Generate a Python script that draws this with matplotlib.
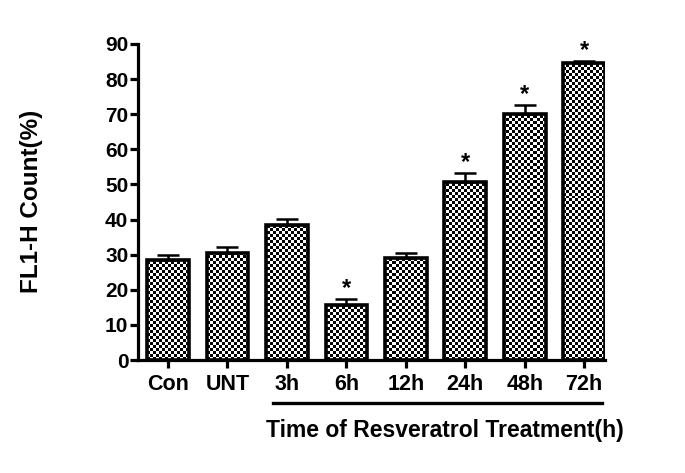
import matplotlib
matplotlib.use("Agg")
import matplotlib.pyplot as plt
import matplotlib.transforms as mtransforms
import numpy as np

plt.rcParams['font.family'] = ['Liberation Sans', 'DejaVu Sans']
plt.rcParams['font.weight'] = 'bold'

# données
groupes = ['Con', 'UNT', '3h', '6h', '12h', '24h', '48h', '72h']
valeurs = [28.6, 30.6, 38.5, 15.8, 29.0, 50.7, 70.1, 84.6]
erreurs = [1.4, 1.6, 1.7, 1.5, 1.5, 2.5, 2.5, 0.5]
signif = [False, False, False, True, False, True, True, True]

fig = plt.figure(figsize=(6.85, 4.73), dpi=100)
ax = fig.add_axes([0.2015, 0.2389, 0.6817, 0.6681])

x = np.arange(len(groupes))
barres = ax.bar(x, valeurs, width=0.7, facecolor='none', edgecolor='black',
                linewidth=2.6, zorder=3)

# motif en damier, découpé dans chaque barre
nx, ny = 156, 106
damier = (np.add.outer(np.arange(ny), np.arange(nx)) % 2).astype(float)
for b in barres:
    im = ax.imshow(damier, cmap='gray', vmin=0, vmax=1, interpolation='nearest',
                   extent=(-0.505, 7.35, 0, 90), aspect='auto', zorder=2)
    im.set_clip_path(b)

ax.errorbar(x, valeurs, yerr=[np.zeros(len(x)), erreurs], fmt='none',
            ecolor='black', elinewidth=1.8, capsize=8, capthick=1.8, zorder=4)

for xi, v, e, s in zip(x, valeurs, erreurs, signif):
    if s:
        ax.text(xi, v + e + 3.0, '*', ha='center', va='center', fontsize=17,
                fontweight='bold')

ax.set_xlim(-0.505, 7.35)
ax.set_ylim(0, 90)
ax.set_yticks(range(0, 91, 10))
ax.set_xticks(x)
ax.set_xticklabels(groupes, fontsize=15.5, fontweight='bold')
for lab in ax.get_yticklabels():
    lab.set_fontsize(15)
    lab.set_fontweight('bold')

for c in ['top', 'right']:
    ax.spines[c].set_visible(False)
for c in ['left', 'bottom']:
    ax.spines[c].set_linewidth(2.3)
ax.tick_params(axis='both', width=2.3, length=6, pad=1)
ax.tick_params(axis='x', pad=4)

ax.set_ylabel('FL1-H Count(%)', fontsize=17.5, fontweight='bold')
ax.yaxis.set_label_coords(-0.203, 0.503)

# trait sous les temps de traitement
trans = mtransforms.blended_transform_factory(ax.transData, ax.transAxes)
ax.plot([1.77, 7.30], [-0.136, -0.136], color='black', linewidth=2.4,
        transform=trans, clip_on=False)
ax.text(4.65, -0.222, 'Time of Resveratrol Treatment(h)', transform=trans,
        ha='center', va='center', fontsize=16.5, fontweight='bold')

fig.savefig('out.png', dpi=100)
